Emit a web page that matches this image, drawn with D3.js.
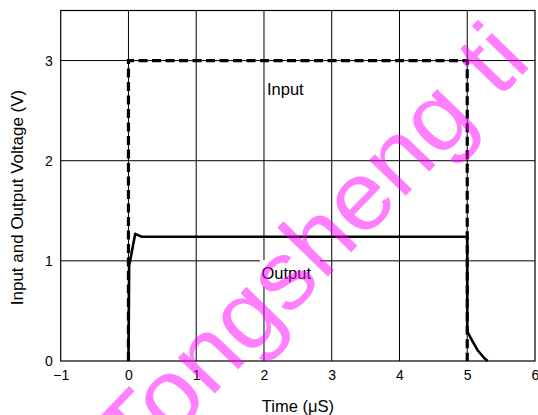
<!DOCTYPE html>
<html>
<head>
<meta charset="utf-8">
<script src="https://cdn.jsdelivr.net/npm/d3@7"></script>
<style>
  html, body { margin: 0; padding: 0; background: #fff; }
  svg { display: block; font-family: "Liberation Sans", Arial, sans-serif; }
</style>
</head>
<body>
<svg id="chart" width="538" height="415"></svg>
<script>
// ---- data ----
const xTicks = [-1, 0, 1, 2, 3, 4, 5, 6];
const yTicks = [0, 1, 2, 3];
const inputTime = [0, 0, 5, 5];
const inputVolt = [0, 3, 3, 0];
const outputTime = [0, 0.01, 0.1, 0.2, 5, 5, 5.05, 5.1, 5.15, 5.2, 5.25, 5.3];
const outputVolt = [0, 0.95, 1.27, 1.24, 1.24, 0.30, 0.23, 0.17, 0.11, 0.07, 0.03, 0];
const seriesLabels = ["Input", "Output"];
const xTitle = "Time (\u03bcS)";
const yTitle = "Input and Output Voltage (V)";
const watermark = "Tongsheng ti";

// ---- layout ----
const svg = d3.select("#chart");
const L = 60.7, R = 535, T = 10.5, B = 361;
const x = d3.scaleLinear().domain([-1, 6]).range([L, R]);
const y = d3.scaleLinear().domain([0, 3.5]).range([B, T]);

// gridlines
const g = svg.append("g");
g.selectAll("line.vg").data(xTicks.slice(1, -1)).join("line")
  .attr("x1", d => x(d)).attr("x2", d => x(d))
  .attr("y1", T).attr("y2", B)
  .attr("stroke", "#000").attr("stroke-width", 1);
g.selectAll("line.hg").data(yTicks.slice(1)).join("line")
  .attr("x1", L).attr("x2", R)
  .attr("y1", d => y(d)).attr("y2", d => y(d))
  .attr("stroke", "#000").attr("stroke-width", 1);

// border
svg.append("rect").attr("x", L).attr("y", T).attr("width", R - L).attr("height", B - T)
  .attr("fill", "none").attr("stroke", "#000").attr("stroke-width", 1.2);

// axes tick labels (via d3 axes, domain/ticks hidden)
const xAxis = svg.append("g").attr("transform", `translate(0,${B})`)
  .call(d3.axisBottom(x).tickValues(xTicks).tickSize(0).tickPadding(9).tickFormat(d3.format("d")));
xAxis.select(".domain").remove();
xAxis.selectAll("text").attr("font-size", 14).attr("fill", "#000")
  .attr("font-family", "Liberation Sans, Arial, sans-serif");

const yAxis = svg.append("g").attr("transform", `translate(${L},0)`)
  .call(d3.axisLeft(y).tickValues(yTicks).tickSize(0).tickPadding(8).tickFormat(d3.format("d")));
yAxis.select(".domain").remove();
yAxis.selectAll("text").attr("font-size", 14).attr("fill", "#000")
  .attr("font-family", "Liberation Sans, Arial, sans-serif");

// lines
const line = d3.line().x(d => x(d[0])).y(d => y(d[1]));
const outPts = outputTime.map((t, i) => [t, outputVolt[i]]);
const inPts = inputTime.map((t, i) => [t, inputVolt[i]]);

svg.append("path").attr("d", line(outPts))
  .attr("fill", "none").attr("stroke", "#000").attr("stroke-width", 2.6)
  .attr("stroke-linejoin", "round");
svg.append("path").attr("d", line(inPts))
  .attr("fill", "none").attr("stroke", "#000").attr("stroke-width", 3.2)
  .attr("stroke-dasharray", "9,4.5");

// series labels
svg.append("text").attr("x", 267).attr("y", 95).attr("font-size", 16.5).text(seriesLabels[0]);
svg.append("rect").attr("x", 260).attr("y", 260).attr("width", 60).attr("height", 27).attr("fill", "#fff");
svg.append("text").attr("x", 261.5).attr("y", 278.5).attr("font-size", 16.5).text(seriesLabels[1]);

// titles
svg.append("text").attr("x", (L + R) / 2).attr("y", 411.5).attr("text-anchor", "middle")
  .attr("font-size", 16.5).text(xTitle);
svg.append("text").attr("transform", "translate(22.5,197.5) rotate(-90)")
  .attr("text-anchor", "middle").attr("font-size", 17).text(yTitle);

// watermark
svg.append("text").attr("transform", "translate(136,475) rotate(-46) scale(1.04,1)")
  .attr("font-size", 97).attr("fill", "#ff00ff").attr("fill-opacity", 0.5)
  .attr("font-family", "Liberation Sans, Arial, sans-serif")
  .text(watermark);
</script>
</body>
</html>
